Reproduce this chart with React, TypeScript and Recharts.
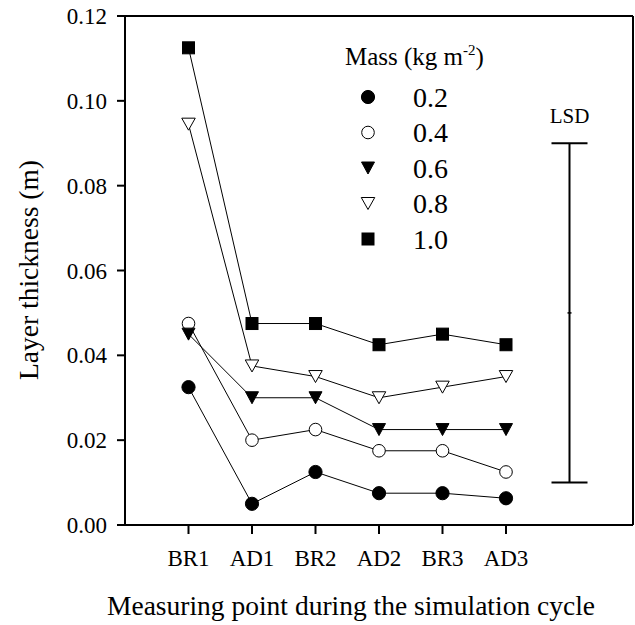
import React from 'react';
import {
  ComposedChart,
  Line,
  Scatter,
  ErrorBar,
  XAxis,
  YAxis,
  ReferenceLine,
  Legend,
} from 'recharts';

const FONT = "'Liberation Serif', 'Times New Roman', serif";

// ---- data ----
const categories = ['BR1', 'AD1', 'BR2', 'AD2', 'BR3', 'AD3'];
const positions = [1, 2, 3, 4, 5, 6];
const mass02 = [0.0325, 0.005, 0.0125, 0.0075, 0.0075, 0.0063];
const mass04 = [0.0475, 0.02, 0.0225, 0.0175, 0.0175, 0.0125];
const mass06 = [0.045, 0.03, 0.03, 0.0225, 0.0225, 0.0225];
const mass08 = [0.0945, 0.0375, 0.035, 0.03, 0.0325, 0.035];
const mass10 = [0.1125, 0.0475, 0.0475, 0.0425, 0.045, 0.0425];
const seriesNames = ['0.2', '0.4', '0.6', '0.8', '1.0'];
const seriesKeys = ['m02', 'm04', 'm06', 'm08', 'm10'];
const seriesShapes = ['circleFilled', 'circleOpen', 'triFilled', 'triOpen', 'squareFilled'];
const yTicks = [0, 0.02, 0.04, 0.06, 0.08, 0.1, 0.12];
const lsdPosition = 7;
const lsdLow = 0.01;
const lsdHigh = 0.09;

const tableData = positions.map((x, i) => ({
  x,
  label: categories[i],
  m02: mass02[i],
  m04: mass04[i],
  m06: mass06[i],
  m08: mass08[i],
  m10: mass10[i],
}));

const lsdData = [
  { x: lsdPosition, mid: (lsdLow + lsdHigh) / 2, err: (lsdHigh - lsdLow) / 2 },
];
const lsdLabelData = [{ x: lsdPosition, top: lsdHigh }];

function Marker({ shape, cx, cy, big = 1 }: { shape: string; cx: number; cy: number; big?: number }) {
  if (cx == null || cy == null || isNaN(cx) || isNaN(cy)) return null;
  const s = big;
  switch (shape) {
    case 'circleFilled':
      return <circle cx={cx} cy={cy} r={6.6 * s} fill="#000" stroke="#000" strokeWidth={1} />;
    case 'circleOpen':
      return <circle cx={cx} cy={cy} r={6.3 * s} fill="#fff" stroke="#000" strokeWidth={1} />;
    case 'triFilled': {
      const w = 13 * s, h = 12 * s;
      return (
        <polygon
          points={`${cx - w / 2},${cy - h / 2} ${cx + w / 2},${cy - h / 2} ${cx},${cy + h / 2}`}
          fill="#000"
          stroke="#000"
          strokeWidth={1}
        />
      );
    }
    case 'triOpen': {
      const w = 13.5 * s, h = 12 * s;
      return (
        <polygon
          points={`${cx - w / 2},${cy - h / 2} ${cx + w / 2},${cy - h / 2} ${cx},${cy + h / 2}`}
          fill="#fff"
          stroke="#000"
          strokeWidth={1}
        />
      );
    }
    default:
      return <rect x={cx - 6 * s} y={cy - 6 * s} width={12 * s} height={12 * s} fill="#000" stroke="#000" strokeWidth={1} />;
  }
}

function LegendBox() {
  const rowTop = 67;
  const rowStep = 35.5;
  return (
    <svg width={220} height={240} style={{ overflow: 'visible', display: 'block' }}>
      <text x={15} y={35} fontSize={25} fontFamily={FONT} fill="#000">
        Mass (kg m
        <tspan fontSize={15} dy={-10}>-2</tspan>
        <tspan dy={10}>)</tspan>
      </text>
      {seriesNames.map((name, i) => {
        const cy = rowTop + i * rowStep;
        return (
          <g key={name}>
            <Marker shape={seriesShapes[i]} cx={38} cy={cy} />
            <text x={83} y={cy + 9.5} fontSize={28} fontFamily={FONT} fill="#000">
              {name}
            </text>
          </g>
        );
      })}
    </svg>
  );
}

export default function App() {
  return (
    <div style={{ position: 'absolute', left: 0, top: 0, width: 635, height: 625, background: '#fff' }}>
      <ComposedChart
        width={635}
        height={625}
        data={tableData}
        margin={{ top: 16, right: 2, bottom: 0, left: 0 }}
      >
        <XAxis
          type="number"
          dataKey="x"
          domain={[0, 8]}
          ticks={positions}
          interval={0}
          tickFormatter={(v: number) => categories[positions.indexOf(v)] ?? ''}
          height={100}
          stroke="#000"
          strokeWidth={2}
          tickSize={9}
          tickMargin={16}
          tick={{ fill: '#000', fontSize: 23, fontFamily: FONT }}
          label={{
            content: () => (
              <text x={351} y={615} textAnchor="middle" fontSize={27.5} fontFamily={FONT} fill="#000">
                Measuring point during the simulation cycle
              </text>
            ),
          }}
        />
        <YAxis
          type="number"
          domain={[0, 0.12]}
          ticks={yTicks}
          interval={0}
          width={125}
          stroke="#000"
          strokeWidth={2}
          tickSize={8}
          tickMargin={10}
          tickFormatter={(v: number) => v.toFixed(2)}
          tick={{ fill: '#000', fontSize: 23, fontFamily: FONT }}
          label={{
            content: () => (
              <text
                x={38}
                y={270}
                textAnchor="middle"
                fontSize={27.5}
                fontFamily={FONT}
                fill="#000"
                transform="rotate(-90, 38, 270)"
              >
                Layer thickness (m)
              </text>
            ),
          }}
        />
        <ReferenceLine y={0.12} stroke="#000" strokeWidth={2} ifOverflow="extendDomain" />
        <ReferenceLine x={8} stroke="#000" strokeWidth={2} ifOverflow="extendDomain" />
        {seriesKeys.map((key, i) => (
          <Line
            key={key}
            type="linear"
            dataKey={key}
            name={seriesNames[i]}
            stroke="#000"
            strokeWidth={1}
            isAnimationActive={false}
            activeDot={false}
            dot={(p: any) => (
              <Marker key={`${key}-${p.index}`} shape={seriesShapes[i]} cx={p.cx} cy={p.cy} />
            )}
          />
        ))}
        <Scatter
          data={lsdData}
          dataKey="mid"
          isAnimationActive={false}
          shape={(p: any) => (
            <line x1={p.cx - 2} x2={p.cx + 2} y1={p.cy} y2={p.cy} stroke="#000" strokeWidth={1.5} />
          )}
        >
          <ErrorBar dataKey="err" direction="y" width={18} stroke="#000" strokeWidth={2} isAnimationActive={false} />
        </Scatter>
        <Scatter
          data={lsdLabelData}
          dataKey="top"
          isAnimationActive={false}
          shape={(p: any) => (
            <text x={p.cx} y={p.cy - 20} textAnchor="middle" fontSize={21} fontFamily={FONT} fill="#000">
              LSD
            </text>
          )}
        />
        <Legend
          layout="vertical"
          align="center"
          verticalAlign="middle"
          wrapperStyle={{ position: 'absolute', left: 330, top: 30, width: 220, height: 240 }}
          content={() => <LegendBox />}
        />
      </ComposedChart>
    </div>
  );
}
